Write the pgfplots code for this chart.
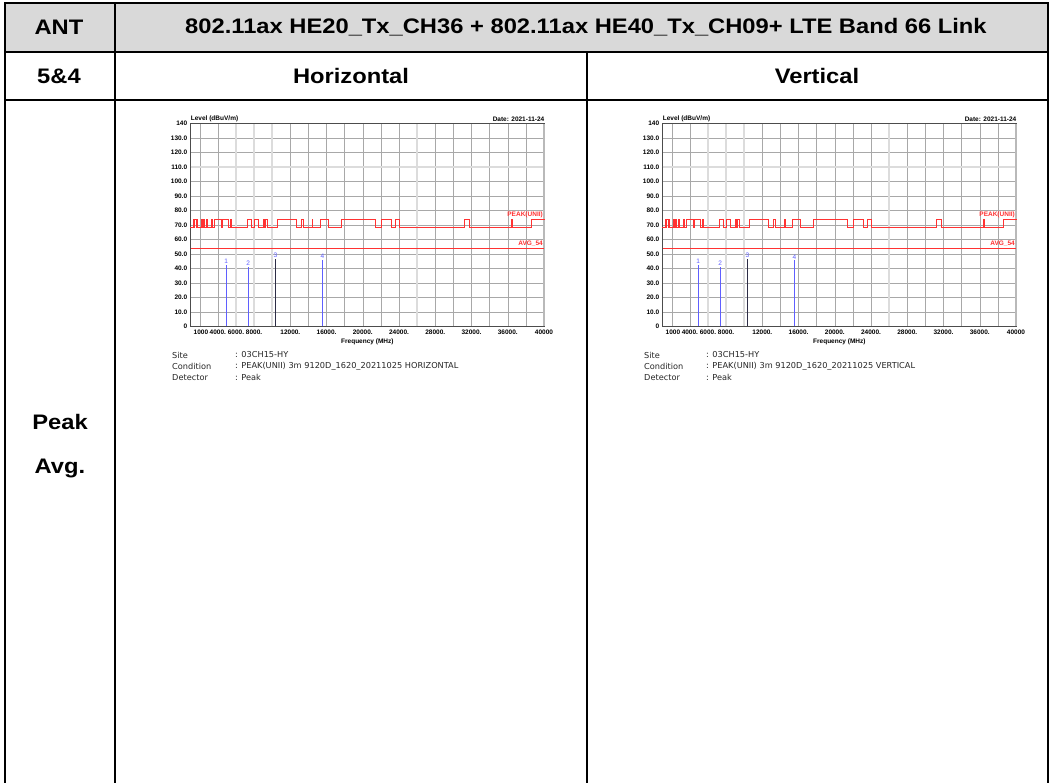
\documentclass[border=0pt]{standalone}
\usepackage{fontspec}
\setmainfont{Liberation Sans}
\newfontfamily\hdrfont{Liberation Sans}[FakeStretch=1.13]
\newfontfamily\sitefont{DejaVu Sans}
\usepackage{pgfplots}
\usepackage{pgfplotstable}
\pgfplotsset{compat=1.18}

\definecolor{hdrgray}{RGB}{217,217,217}
\definecolor{limitred}{RGB}{255,50,50}
\definecolor{mkblue}{RGB}{95,95,255}
\definecolor{mkdark}{RGB}{45,45,70}
\definecolor{gridgray}{RGB}{168,168,168}
\definecolor{gridlight}{RGB}{220,220,220}

% PEAK(UNII) limit, one straight piece per row (start x, start level, dx, dlevel):
% 74 dBuV/m inside restricted bands, 68.2 dBuV/m elsewhere
\pgfplotstableread{
x y u v
1000 68.2 300 0
1300 68.2 0 5.8
1300 74 127 0
1427 68.2 0 5.8
1427 68.2 8 0
1435 68.2 0 5.8
1435 74 191.5 0
1626.5 68.2 0 5.8
1626.5 68.2 19 0
1645.5 68.2 0 5.8
1645.5 74 1 0
1646.5 68.2 0 5.8
1646.5 68.2 13.5 0
1660 68.2 0 5.8
1660 74 50 0
1710 68.2 0 5.8
1710 68.2 8.8 0
1718.8 68.2 0 5.8
1718.8 74 3.4 0
1722.2 68.2 0 5.8
1722.2 68.2 477.8 0
2200 68.2 0 5.8
2200 74 100 0
2300 68.2 0 5.8
2300 68.2 10 0
2310 68.2 0 5.8
2310 74 80 0
2390 68.2 0 5.8
2390 68.2 93.5 0
2483.5 68.2 0 5.8
2483.5 74 16.5 0
2500 68.2 0 5.8
2500 68.2 190 0
2690 68.2 0 5.8
2690 74 210 0
2900 68.2 0 5.8
2900 68.2 360 0
3260 68.2 0 5.8
3260 74 7 0
3267 68.2 0 5.8
3267 68.2 65 0
3332 68.2 0 5.8
3332 74 7 0
3339 68.2 0 5.8
3339 68.2 6.8 0
3345.8 68.2 0 5.8
3345.8 74 12.2 0
3358 68.2 0 5.8
3358 68.2 242 0
3600 68.2 0 5.8
3600 74 800 0
4400 68.2 0 5.8
4400 68.2 100 0
4500 68.2 0 5.8
4500 74 650 0
5150 68.2 0 5.8
5150 68.2 200 0
5350 68.2 0 5.8
5350 74 110 0
5460 68.2 0 5.8
5460 68.2 1790 0
7250 68.2 0 5.8
7250 74 500 0
7750 68.2 0 5.8
7750 68.2 275 0
8025 68.2 0 5.8
8025 74 475 0
8500 68.2 0 5.8
8500 68.2 500 0
9000 68.2 0 5.8
9000 74 200 0
9200 68.2 0 5.8
9200 68.2 100 0
9300 68.2 0 5.8
9300 74 200 0
9500 68.2 0 5.8
9500 68.2 1100 0
10600 68.2 0 5.8
10600 74 2100 0
12700 68.2 0 5.8
12700 68.2 550 0
13250 68.2 0 5.8
13250 74 150 0
13400 68.2 0 5.8
13400 68.2 1070 0
14470 68.2 0 5.8
14470 74 30 0
14500 68.2 0 5.8
14500 68.2 850 0
15350 68.2 0 5.8
15350 74 850 0
16200 68.2 0 5.8
16200 68.2 1500 0
17700 68.2 0 5.8
17700 74 3700 0
21400 68.2 0 5.8
21400 68.2 610 0
22010 68.2 0 5.8
22010 74 1110 0
23120 68.2 0 5.8
23120 68.2 480 0
23600 68.2 0 5.8
23600 74 400 0
24000 68.2 0 5.8
24000 68.2 7200 0
31200 68.2 0 5.8
31200 74 600 0
31800 68.2 0 5.8
31800 68.2 4630 0
36430 68.2 0 5.8
36430 74 70 0
36500 68.2 0 5.8
36500 68.2 2100 0
38600 68.2 0 5.8
38600 74 1400 0
}\peakpieces

\pgfplotsset{
  emcchart/.style={
    scale only axis, width=353.3pt, height=202.6pt,
    xmin=1000, xmax=40000, ymin=0, ymax=140,
    scaled x ticks=false, scaled y ticks=false,
    /pgf/number format/assume math mode=true,
    ticklabel style={font=\fontsize{6.5}{7}\selectfont\bfseries, text=black},
    xtick={4000,6000,8000,12000,16000,20000,24000,28000,32000,36000,40000},
    xticklabels={4000.,6000.,8000.,12000.,16000.,20000.,24000.,28000.,32000.,36000.,40000},
    extra x ticks={1000}, extra x tick labels={1000},
    extra x tick style={grid=none, xticklabel style={anchor=north west, xshift=-0.5pt}},
    minor xtick={2000,4000,...,38000},
    ytick={0,10,...,140},
    yticklabels={0,10.0,20.0,30.0,40.0,50.0,60.0,70.0,80.0,90.0,100.0,110.0,120.0,130.0,140},
    major tick length=0pt, minor tick length=0pt,
    xminorgrids=true, ymajorgrids=true,
    grid style={gridgray, line width=0.5pt},
    minor grid style={gridgray, line width=0.5pt},
    axis line style={black!70, line width=0.6pt},
    xlabel={Frequency (MHz)},
    xlabel style={font=\fontsize{6.5}{7}\selectfont\bfseries, at={(axis description cs:0.5,0)}, anchor=center, yshift=-15.5pt},
    clip=false,
  }
}

\newcommand{\emcplot}[4]{%
  % lighter, wider grid lines
  \draw[gridlight, line width=1.6pt] (axis cs:6000,0) -- (axis cs:6000,140);
  \draw[gridlight, line width=1.6pt] (axis cs:8000,0) -- (axis cs:8000,140);
  \draw[gridlight, line width=1.6pt] (axis cs:10000,0) -- (axis cs:10000,140);
  \draw[gridlight, line width=1.6pt] (axis cs:26000,0) -- (axis cs:26000,140);
  \draw[gridlight, line width=1.6pt] (axis cs:1000,110) -- (axis cs:40000,110);
  \draw[gridgray!80, line width=1.2pt] (axis cs:40000,0) -- (axis cs:40000,140);
  % limits
  \addplot[draw=limitred, mark=none, line width=1.0pt, line cap=rect,
           quiver={u=\thisrow{u}, v=\thisrow{v}}] table[x=x, y=y] {\peakpieces};
  \addplot[draw=limitred, mark=none, line width=1.0pt] coordinates {(1000,54) (40000,54)};
  \node[anchor=south east, inner sep=1pt, yshift=0.6pt, font=\fontsize{6.5}{7}\selectfont\bfseries, text=limitred] at (axis cs:40000,74) {PEAK(UNII)};
  \node[anchor=south east, inner sep=1pt, yshift=0.8pt, font=\fontsize{6.5}{7}\selectfont\bfseries, text=limitred] at (axis cs:40000,54) {AVG\_54};
  % marker readings
  \addplot[mkblue, line width=0.6pt] coordinates {(4904,0) (4904,#1)}
    node[pos=1, anchor=south, inner sep=1pt, font=\fontsize{6.5}{7}\selectfont, text=mkblue] {1};
  \addplot[mkblue, line width=0.6pt] coordinates {(7356,0) (7356,#2)}
    node[pos=1, anchor=south, inner sep=1pt, font=\fontsize{6.5}{7}\selectfont, text=mkblue] {2};
  \addplot[mkdark, line width=0.6pt] coordinates {(10360,0) (10360,#3)}
    node[pos=1, anchor=south, inner sep=1pt, font=\fontsize{6.5}{7}\selectfont, text=mkblue] {3};
  \addplot[mkblue, line width=0.6pt] coordinates {(15540,0) (15540,#4)}
    node[pos=1, anchor=south, inner sep=1pt, font=\fontsize{6.5}{7}\selectfont, text=mkblue] {4};
  % captions above the plot area
  \node[anchor=west, inner sep=0pt, font=\fontsize{6.5}{7}\selectfont\bfseries] at (rel axis cs:0,1) [yshift=4.6pt] {Level (dBuV/m)};
  \node[anchor=east, inner sep=0pt, font=\fontsize{6.5}{7}\selectfont\bfseries] at (rel axis cs:1,1) [yshift=4.6pt, xshift=0.5pt] {Date: 2021-11-24};
}

\begin{document}
\begin{tikzpicture}
\path[use as bounding box] (0pt,0pt) rectangle (1051pt,-783pt);
\fill[white] (0pt,0pt) rectangle (1051pt,-783pt);

\begin{scope}[x=1pt, y=-1pt]
  \fill[hdrgray] (5,3.5) rectangle (1048,52);
  \draw[line width=2pt] (5,3.5) -- (1048,3.5);
  \draw[line width=2pt] (5,52) -- (1048,52);
  \draw[line width=2pt] (5,100) -- (1048,100);
  \draw[line width=2pt] (5,2.5) -- (5,783);
  \draw[line width=2pt] (1048,2.5) -- (1048,783);
  \draw[line width=2pt] (115,3.5) -- (115,783);
  \draw[line width=2pt] (586.7,52) -- (586.7,783);

  \begin{scope}[every node/.style={font=\hdrfont\fontsize{21}{25}\selectfont\bfseries, inner sep=0pt}]
    \node at (59,27) {ANT};
    \node at (586,27) {802.11ax HE20\_Tx\_CH36 + 802.11ax HE40\_Tx\_CH09+ LTE Band 66 Link};
    \node at (59,76) {5\&4};
    \node at (351,76) {Horizontal};
    \node at (817,76) {Vertical};
    \node at (60,421.5) {Peak};
    \node at (60,468) {Avg.};
  \end{scope}

  \begin{scope}[every node/.style={font=\sitefont\fontsize{8.2}{9}\selectfont, inner sep=0pt, anchor=west, text=black!85}]
    \node at (172,355) {Site};
    \node at (172,366.3) {Condition};
    \node at (172,377.3) {Detector};
    \node at (235,355) {: 03CH15-HY};
    \node at (235,366.3) {: PEAK(UNII) 3m 9120D\_1620\_20211025 HORIZONTAL};
    \node at (235,377.3) {: Peak};
    \node at (644,355) {Site};
    \node at (644,366.3) {Condition};
    \node at (644,377.3) {Detector};
    \node at (706,355) {: 03CH15-HY};
    \node at (706,366.3) {: PEAK(UNII) 3m 9120D\_1620\_20211025 VERTICAL};
    \node at (706,377.3) {: Peak};
  \end{scope}
\end{scope}

\begin{axis}[emcchart, at={(190.7pt,-326.3pt)}, anchor=south west]
  \emcplot{42.6}{41.2}{46.7}{46.0}
\end{axis}

\begin{axis}[emcchart, at={(662.7pt,-326.3pt)}, anchor=south west]
  \emcplot{42.6}{41.2}{46.7}{45.6}
\end{axis}
\end{tikzpicture}
\end{document}
